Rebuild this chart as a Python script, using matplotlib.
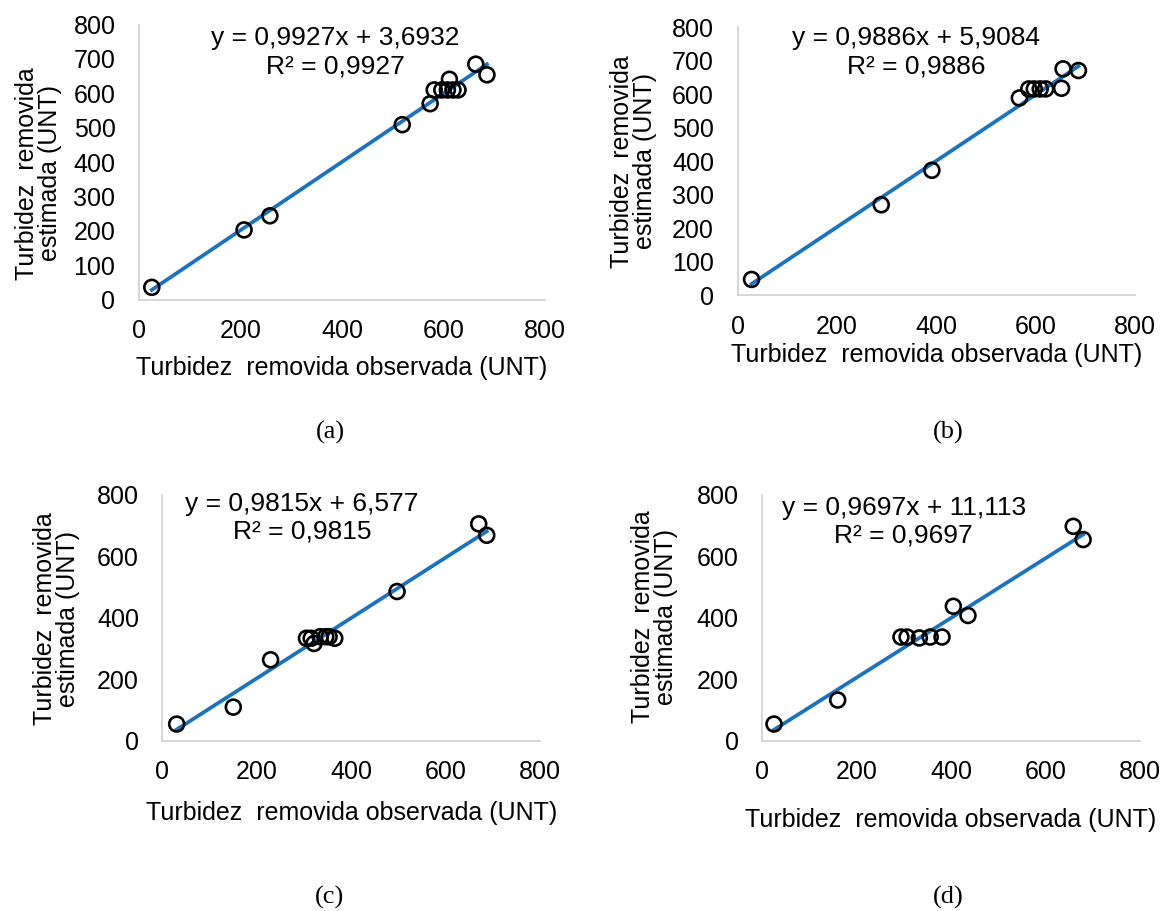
import numpy as np
import matplotlib.pyplot as plt

plt.rcParams['font.family'] = ['Liberation Sans', 'DejaVu Sans']

# observed vs estimated removed turbidity (UNT), one set per panel
obs_a = [25, 207, 258, 519, 574, 582, 597, 608, 619, 629, 612, 664, 686]
est_a = [36, 203, 244, 509, 570, 610, 610, 610, 610, 610, 641, 685, 654]

obs_b = [28, 289, 391, 567, 586, 597, 609, 620, 652, 655, 686]
est_b = [47, 270, 373, 589, 616, 616, 616, 616, 618, 676, 671]

obs_c = [30, 150, 229, 305, 315, 321, 334, 346, 353, 365, 497, 670, 687]
est_c = [54, 109, 263, 333, 333, 316, 338, 338, 338, 333, 485, 705, 668]

obs_d = [25, 160, 294, 307, 333, 356, 381, 405, 436, 659, 680]
est_d = [54, 132, 337, 337, 334, 337, 337, 437, 407, 697, 654]

# trend line coefficients (slope, intercept) and their printed forms
slopes = [0.9927, 0.9886, 0.9815, 0.9697]
intercepts = [3.6932, 5.9084, 6.577, 11.113]
eq_text = ["y = 0,9927x + 3,6932\nR² = 0,9927",
           "y = 0,9886x + 5,9084\nR² = 0,9886",
           "y = 0,9815x + 6,577\nR² = 0,9815",
           "y = 0,9697x + 11,113\nR² = 0,9697"]
y_ticks = [np.arange(0, 801, 100), np.arange(0, 801, 100),
           np.arange(0, 801, 200), np.arange(0, 801, 200)]
captions = ["(a)", "(b)", "(c)", "(d)"]

obs = [obs_a, obs_b, obs_c, obs_d]
est = [est_a, est_b, est_c, est_d]

# axes boxes [left, bottom, width, height] in figure fraction
boxes = [[0.119, 0.671, 0.347, 0.302],
         [0.631, 0.676, 0.340, 0.294],
         [0.139, 0.187, 0.323, 0.270],
         [0.652, 0.187, 0.323, 0.270]]
eq_pos = [(0.483, 0.90), (0.45, 0.907), (0.37, 0.906), (0.375, 0.89)]
ylab_pos = [(-0.249, 0.46), (-0.262, 0.50), (-0.28, 0.496), (-0.285, 0.504)]
cap_pos = [(330, 432), (948, 432), (330, 897), (948, 897)]
xlab_pad = [9, 3, 12, 17]

FS = 18

fig = plt.figure(figsize=(11.69, 9.11), dpi=100)

for i in range(4):
    ax = fig.add_axes(boxes[i])
    x = np.array(obs[i])
    ax.scatter(x, est[i], s=115, facecolors='none', edgecolors='black',
               linewidths=1.9, zorder=3)
    xl = np.array([x.min(), x.max()])
    ax.plot(xl, slopes[i] * xl + intercepts[i], color='#1B72C0',
            linewidth=2.7, zorder=2)

    ax.set_xlim(0, 800)
    ax.set_ylim(0, 800)
    ax.set_xticks(np.arange(0, 801, 200))
    ax.set_yticks(y_ticks[i])
    ax.tick_params(length=0, labelsize=FS)
    ax.tick_params(axis='x', pad=14)
    ax.tick_params(axis='y', pad=17)
    for side in ['top', 'right']:
        ax.spines[side].set_visible(False)
    for side in ['left', 'bottom']:
        ax.spines[side].set_color('#d0d0d0')
        ax.spines[side].set_linewidth(1.2)

    ax.set_xlabel("Turbidez  removida observada (UNT)", fontsize=FS,
                  labelpad=xlab_pad[i])
    ax.set_ylabel("Turbidez  removida\nestimada (UNT)", fontsize=FS,
                  linespacing=0.95)
    ax.yaxis.label.set_va('center')
    ax.yaxis.set_label_coords(*ylab_pos[i])
    ax.text(eq_pos[i][0], eq_pos[i][1], eq_text[i], transform=ax.transAxes,
            ha='center', va='center', fontsize=19, linespacing=1.2)

    fig.text(cap_pos[i][0] / 1169, 1 - cap_pos[i][1] / 911, captions[i],
             ha='center', va='center', fontsize=19,
             family='Liberation Serif')

fig.savefig("out.png", dpi=100, facecolor='white')
